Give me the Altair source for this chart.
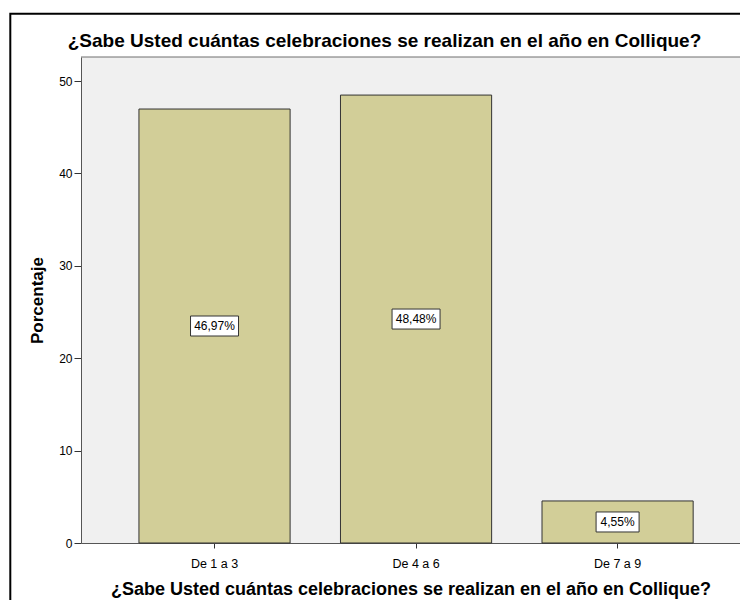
import altair as alt
import pandas as pd

categories = ["De 1 a 3", "De 4 a 6", "De 7 a 9"]
percentages = [46.97, 48.48, 4.55]
labels = ["46,97%", "48,48%", "4,55%"]

title_text = "¿Sabe Usted cuántas celebraciones se realizan en el año en Collique?"
FONT = "Liberation Sans"

df = pd.DataFrame({"cat": categories, "pct": percentages, "label": labels})

PLOT_W = 659
PLOT_H = 486

x_scale = alt.Scale(paddingInner=0.25, paddingOuter=0.26, align=0.553)
y_scale = alt.Scale(domain=[0, 52.6], nice=False, zero=True)

x_axis = alt.Axis(
    title=title_text,
    labelAngle=0,
    labelFontSize=12.5,
    labelPadding=9,
    tickSize=5,
    tickColor="#333333",
    domainColor="#555555",
    labelColor="#000000",
    titleFontSize=18,
    titleFontWeight="bold",
    titleColor="#000000",
    titlePadding=11,
)

y_axis = alt.Axis(
    title="Porcentaje",
    values=[0, 10, 20, 30, 40, 50],
    grid=False,
    tickSize=7,
    tickColor="#333333",
    domainColor="#555555",
    labelFontSize=12,
    labelPadding=2,
    labelColor="#000000",
    titleFontSize=17,
    titleFontWeight="bold",
    titleColor="#000000",
    titlePadding=12,
)

bars = alt.Chart(df).mark_bar(
    fill="#d2ce98", stroke="#333333", strokeWidth=1
).encode(
    x=alt.X("cat:N", sort=categories, scale=x_scale, axis=x_axis),
    y=alt.Y("pct:Q", scale=y_scale, axis=y_axis),
)

base = alt.Chart(df).transform_calculate(
    mid="datum.pct / 2",
    nchar="length(datum.label)",
)

box_wide = base.transform_filter("datum.nchar >= 6").mark_rect(
    fill="#ffffff", stroke="#333333", strokeWidth=1,
    width=48, yOffset=-10, y2Offset=10,
).encode(
    x=alt.X("cat:N", sort=categories),
    y=alt.Y("mid:Q", scale=y_scale),
    y2="mid:Q",
)

box_narrow = base.transform_filter("datum.nchar < 6").mark_rect(
    fill="#ffffff", stroke="#333333", strokeWidth=1,
    width=43, yOffset=-10, y2Offset=10,
).encode(
    x=alt.X("cat:N", sort=categories),
    y=alt.Y("mid:Q", scale=y_scale),
    y2="mid:Q",
)

texts = base.mark_text(
    font=FONT, fontSize=12, color="#000000", align="center", baseline="middle"
).encode(
    x=alt.X("cat:N", sort=categories),
    y=alt.Y("mid:Q", scale=y_scale),
    text="label:N",
)

one_row = alt.Chart(df).transform_aggregate(n="count()")

top_line = one_row.mark_rule(color="#6e6e6e", strokeWidth=1).encode(
    x=alt.value(0), x2=alt.value(PLOT_W), y=alt.value(0)
)

frame = one_row.mark_rect(
    fill="#ffffff", fillOpacity=0, stroke="#000000", strokeWidth=2
).encode(
    x=alt.value(-70.7), x2=alt.value(PLOT_W + 40),
    y=alt.value(-43.3), y2=alt.value(PLOT_H + 100),
)

chart = alt.layer(bars, box_wide, box_narrow, texts, top_line, frame).properties(
    width=PLOT_W,
    height=PLOT_H,
    title=alt.TitleParams(
        text=title_text,
        fontSize=19,
        fontWeight="bold",
        font=FONT,
        color="#000000",
        anchor="middle",
        dx=-26,
        offset=-38.5,
    ),
    autosize=alt.AutoSizeParams(type="none"),
    padding={"left": 73, "top": 49, "right": 0, "bottom": 57},
).configure(
    font=FONT,
    background="#ffffff",
).configure_view(
    fill="#f0f0f0", stroke=None
).configure_axis(
    labelFont=FONT, titleFont=FONT
)

chart.save("out.html", embed_options={"renderer": "svg", "actions": False})
